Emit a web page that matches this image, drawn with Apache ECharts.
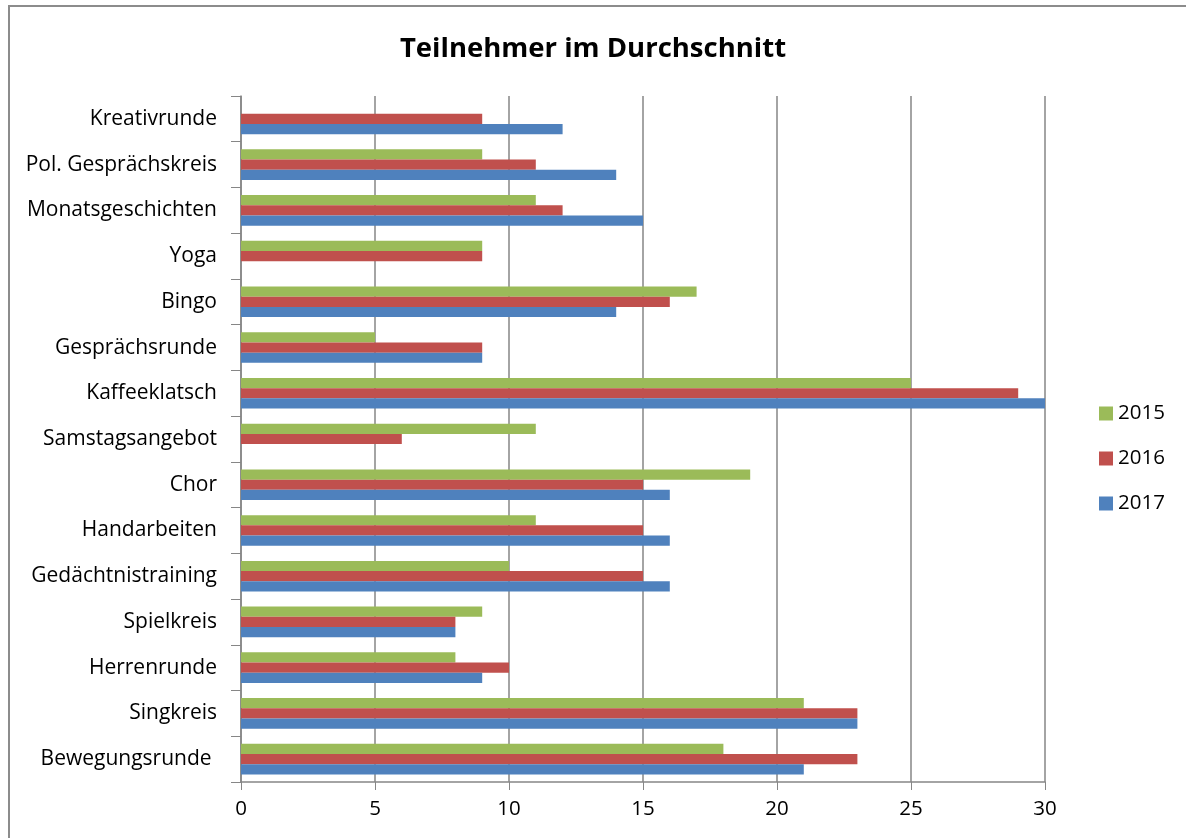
<!DOCTYPE html>
<html><head><meta charset="utf-8">
<script src="https://cdn.jsdelivr.net/npm/echarts@6/dist/echarts.min.js"></script>
<style>
html,body{margin:0;padding:0;background:#fff;}
#frame{position:absolute;left:8px;top:5px;width:1200px;height:860px;border-top:2px solid #8c8c8c;border-left:2px solid #8c8c8c;}
#c{position:absolute;left:0;top:0;width:1186px;height:838px;}
</style></head>
<body>
<div id="frame"></div>
<div id="c"></div>
<script>
var categories = ['Bewegungsrunde ','Singkreis','Herrenrunde','Spielkreis','Gedächtnistraining','Handarbeiten','Chor','Samstagsangebot','Kaffeeklatsch','Gesprächsrunde','Bingo','Yoga','Monatsgeschichten','Pol. Gesprächskreis','Kreativrunde'];
var v2015 = [18,21,8,9,10,11,19,11,25,5,17,9,11,9,null];
var v2016 = [23,23,10,8,15,15,15,6,29,9,16,9,12,11,9];
var v2017 = [21,23,9,8,16,16,16,null,30,9,14,null,15,14,12];
var years = ['2015','2016','2017'];
var colors = ['#9BBB59','#C0504D','#4F81BD'];
var xTicks = {min:0,max:30,interval:5};

var font = '"Open Sans", sans-serif';
var chart = echarts.init(document.getElementById('c'));
var seriesData = [v2015, v2016, v2017];
chart.setOption({
  animation:false,
  title:{text:'Teilnehmer im Durchschnitt',left:'center',top:30,textStyle:{fontFamily:font,fontSize:27.5,fontWeight:'bold',color:'#000'}},
  legend:{data:years,orient:'vertical',left:1094,top:398,itemWidth:14,itemHeight:14,itemGap:24,
    textStyle:{fontFamily:font,fontSize:20.5,color:'#000'},icon:'rect'},
  grid:{left:241,right:141,top:96,bottom:56,containLabel:false},
  xAxis:{type:'value',min:xTicks.min,max:xTicks.max,interval:xTicks.interval,
    axisLine:{show:true,lineStyle:{color:'#868686',width:1.5}},
    axisTick:{show:true,length:8,lineStyle:{color:'#868686'}},
    splitLine:{show:true,lineStyle:{color:'#868686',width:1.5}},
    axisLabel:{fontFamily:font,fontSize:20.5,color:'#000',margin:17}},
  yAxis:{type:'category',data:categories,
    axisLine:{show:true,lineStyle:{color:'#868686',width:1.5}},
    axisTick:{show:true,length:10,interval:0,lineStyle:{color:'#868686'}},
    axisLabel:{fontFamily:font,fontSize:21,color:'#000',margin:24,interval:0}},
  series:seriesData.map(function(d,i){return {name:years[i],type:'bar',data:d,barGap:'0%',barCategoryGap:'33%',itemStyle:{color:colors[i]}};})
});
</script>
</body></html>
